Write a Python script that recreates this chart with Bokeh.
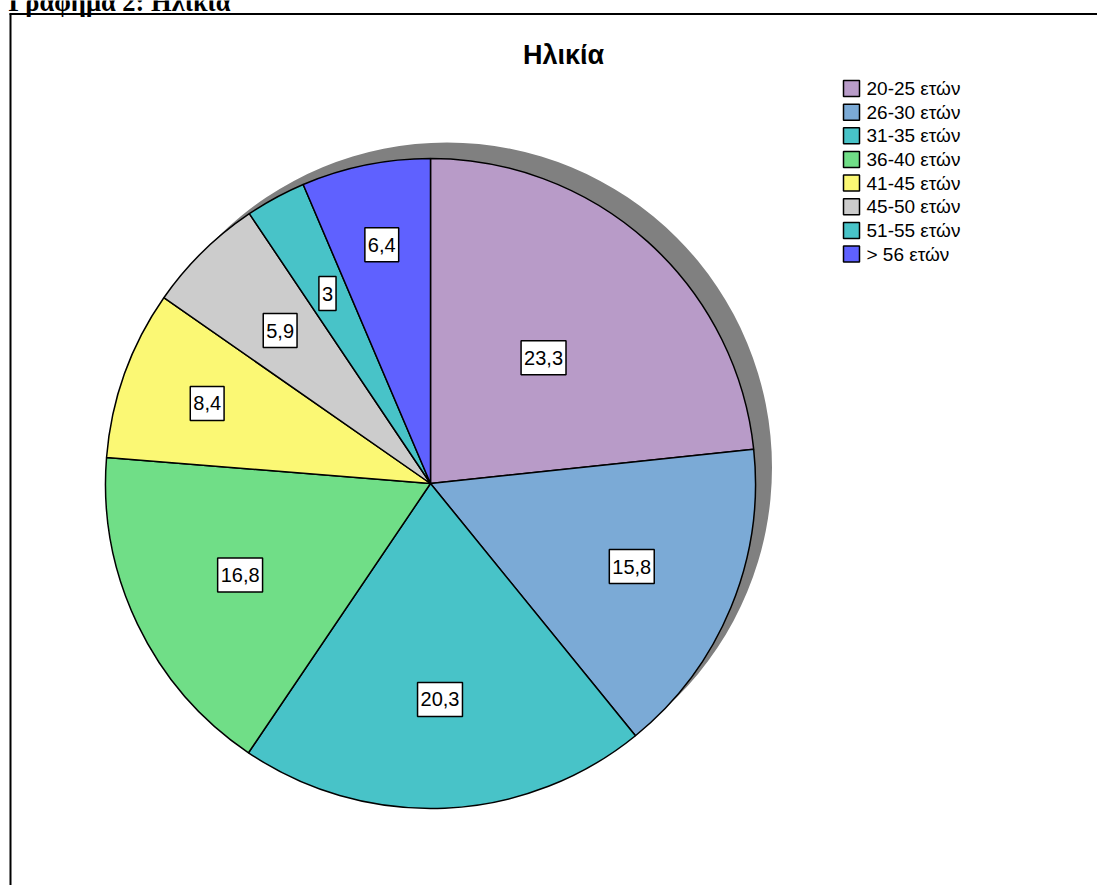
import math
from bokeh.plotting import figure
from bokeh.models import ColumnDataSource, Range1d
from bokeh.core.properties import value
from bokeh.embed import file_html
from bokeh.resources import INLINE

# ---------------- data ----------------
categories = ["20-25 ετών", "26-30 ετών", "31-35 ετών", "36-40 ετών",
              "41-45 ετών", "45-50 ετών", "51-55 ετών", "> 56 ετών"]
percents = [23.3, 15.8, 20.3, 16.8, 8.4, 5.9, 3.0, 6.4]
value_labels = ["23,3", "15,8", "20,3", "16,8", "8,4", "5,9", "3", "6,4"]
colors = ["#B89BC8", "#7BAAD6", "#48C3C8", "#70DE87",
          "#FBF874", "#CCCCCC", "#48C3C8", "#5F61FF"]
title_text = "Ηλικία"
heading_text = "Γράφημα 2: Ηλικία"

# ---------------- layout (styling) ----------------
W, H = 1097, 885
OFFSET = 0   # observed position of the figure on the photographed page


def px(x):          # page x -> data x
    return x - OFFSET


def py(y):          # page y -> data y
    return H + OFFSET - y


CX, CY, R = px(430), py(483), 325
SHADOW_DX, SHADOW_DY = 16.5, 16
label_r = [0.52, 0.67, 0.665, 0.65, 0.73, 0.66, 0.665, 0.75]

p = figure(width=W, height=H, output_backend="svg", toolbar_location=None,
           x_range=Range1d(0, W), y_range=Range1d(0, H),
           min_border=0, outline_line_color=None, background_fill_color="white",
           border_fill_color="white")
p.axis.visible = False
p.xgrid.visible = False
p.ygrid.visible = False

# frame around the chart (extends past the window like the original)
p.segment(x0=[px(10)], y0=[py(13)], x1=[px(10)], y1=[0], line_color="black", line_width=2)
p.segment(x0=[px(9)], y0=[py(13.5)], x1=[W], y1=[py(13.5)], line_color="black", line_width=2)

# heading above the frame (cut off by the page top, as in the original)
p.text(x=[px(8)], y=[py(1)], text=[heading_text], text_font=value("Liberation Serif"),
       text_font_style="bold", text_font_size="26.5px", text_color="black",
       text_align="left", text_baseline="middle")

# title
p.text(x=[px(563)], y=[py(54.5)], text=[title_text], text_font=value("Liberation Sans"),
       text_font_style="bold", text_font_size="27px", text_color="black",
       text_align="center", text_baseline="middle")

# shadow
p.circle(x=[CX + SHADOW_DX], y=[CY + SHADOW_DY], radius=R, fill_color="#808080",
         line_color=None)

# pie wedges
total = sum(percents)
starts, ends, mids = [], [], []
cum = 0.0
for v in percents:
    a0 = math.pi / 2 - 2 * math.pi * cum / total
    cum += v
    a1 = math.pi / 2 - 2 * math.pi * cum / total
    starts.append(a0)
    ends.append(a1)
    mids.append((a0 + a1) / 2)

src = ColumnDataSource(dict(start=starts, end=ends, color=colors, cat=categories))
p.wedge(x=CX, y=CY, radius=R, start_angle="start", end_angle="end", direction="clock",
        fill_color="color", line_color="black", line_width=1.5, source=src)

# value labels
lx = [CX + label_r[i] * R * math.cos(mids[i]) for i in range(len(percents))]
ly = [CY + label_r[i] * R * math.sin(mids[i]) for i in range(len(percents))]
p.text(x=lx, y=ly, text=value_labels, text_font=value("Liberation Sans"),
       text_font_size="20px", text_color="black", text_align="center",
       text_baseline="middle", background_fill_color="white",
       border_line_color="black", border_line_width=1.5, padding=(3, 10))

# legend
row_pitch = 23.65
leg_x = [px(851)] * len(categories)
leg_y = [py(88) - i * row_pitch for i in range(len(categories))]
p.rect(x=leg_x, y=leg_y, width=16, height=16, fill_color=colors,
       line_color="black", line_width=1.5)
p.text(x=[px(866)] * len(categories), y=leg_y, text=categories,
       text_font=value("Liberation Sans"), text_font_size="19px", text_color="black",
       text_align="left", text_baseline="middle")

open("out.html", "w").write(file_html(p, INLINE))
